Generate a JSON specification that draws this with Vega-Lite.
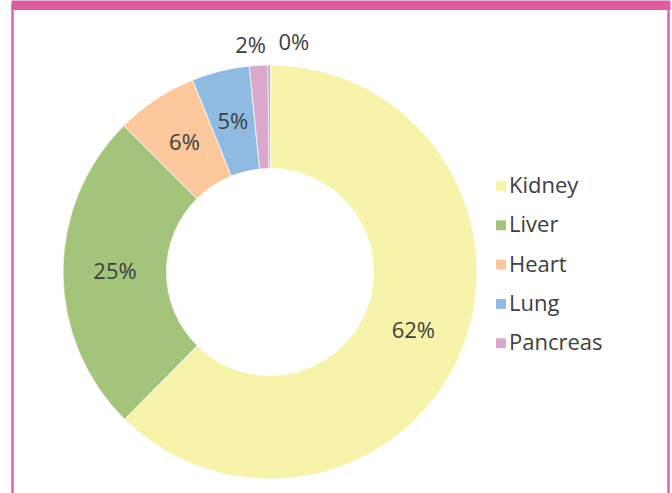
{
  "$schema": "https://vega.github.io/schema/vega-lite/v6.json",
  "autosize": "none",
  "padding": {"left": 12, "top": 51, "right": 144, "bottom": 0},
  "width": 516,
  "height": 442,
  "background": "white",
  "config": {
    "view": {"stroke": null},
    "font": "Open Sans",
    "legend": {"padding": 0}
  },
  "data": {
    "values": [
      {"organ": "Kidney", "rank": 1, "value": 62.4, "label": "62%"},
      {"organ": "Liver", "rank": 2, "value": 25.1, "label": "25%"},
      {"organ": "Heart", "rank": 3, "value": 6.4, "label": "6%"},
      {"organ": "Lung", "rank": 4, "value": 4.5, "label": "5%"},
      {"organ": "Pancreas", "rank": 5, "value": 1.45, "label": "2%"},
      {"organ": "Other", "rank": 6, "value": 0.15, "label": "0%"}
    ]
  },
  "resolve": {"axis": {"y": "independent"}},
  "layer": [
    {
      "mark": {"type": "point", "opacity": 0, "size": 0},
      "encoding": {
        "x": {
          "field": "value", "type": "quantitative",
          "scale": {"domain": [0, 100], "range": [-1, 658], "nice": false, "zero": false},
          "axis": {"orient": "top", "offset": 46.25, "domainWidth": 9.5, "domainColor": "#DC5EA0", "ticks": false, "labels": false, "grid": false, "title": null}
        },
        "y": {
          "field": "value", "type": "quantitative",
          "scale": {"domain": [0, 100], "range": [442, -47], "nice": false, "zero": false},
          "axis": {"orient": "left", "offset": 0, "domainWidth": 2.5, "domainColor": "#DF63A8", "ticks": false, "labels": false, "grid": false, "title": null}
        }
      }
    },
    {
      "mark": {"type": "point", "opacity": 0, "size": 0},
      "encoding": {
        "y": {
          "field": "value", "type": "quantitative",
          "axis": {"orient": "right", "offset": 140, "domainWidth": 2.5, "domainColor": "#DF63A8", "ticks": false, "labels": false, "grid": false, "title": null}
        }
      }
    },
    {
      "mark": {"type": "arc", "radius": 207, "radius2": 103.5, "stroke": "white", "strokeWidth": 0.75},
      "encoding": {
        "theta": {"field": "value", "type": "quantitative", "stack": true},
        "order": {"field": "rank", "type": "quantitative"},
        "color": {
          "field": "organ", "type": "nominal",
          "scale": {
            "domain": ["Kidney", "Liver", "Heart", "Lung", "Pancreas", "Other"],
            "range": ["#F7F3AB", "#A3C47A", "#FBC79B", "#8FBBE3", "#D8A9CD", "#8E74B8"]
          },
          "legend": {
            "values": ["Kidney", "Liver", "Heart", "Lung", "Pancreas"],
            "orient": "none",
            "legendX": 478,
            "legendY": 124,
            "title": null,
            "symbolType": "square",
            "symbolSize": 100,
            "symbolStrokeWidth": 0,
            "labelFontSize": 22,
            "labelFont": "Open Sans",
            "labelColor": "#404040",
            "labelOffset": -3,
            "rowPadding": 17.3
          }
        }
      }
    },
    {
      "mark": {"type": "text", "radius": 155, "fontSize": 22, "color": "#404040", "align": "center", "baseline": "middle"},
      "encoding": {
        "theta": {"field": "value", "type": "quantitative", "stack": true},
        "order": {"field": "rank", "type": "quantitative"},
        "text": {"condition": {"test": "datum.rank <= 4", "field": "label"}, "value": ""}
      }
    },
    {
      "mark": {"type": "text", "radius": 226, "dx": -7, "fontSize": 22, "color": "#404040", "align": "center", "baseline": "middle"},
      "encoding": {
        "theta": {"field": "value", "type": "quantitative", "stack": true},
        "order": {"field": "rank", "type": "quantitative"},
        "text": {"condition": {"test": "datum.organ == 'Pancreas'", "field": "label"}, "value": ""}
      }
    },
    {
      "mark": {"type": "text", "radius": 229, "dx": 25, "fontSize": 22, "color": "#404040", "align": "center", "baseline": "middle"},
      "encoding": {
        "theta": {"field": "value", "type": "quantitative", "stack": true},
        "order": {"field": "rank", "type": "quantitative"},
        "text": {"condition": {"test": "datum.organ == 'Other'", "field": "label"}, "value": ""}
      }
    }
  ]
}
